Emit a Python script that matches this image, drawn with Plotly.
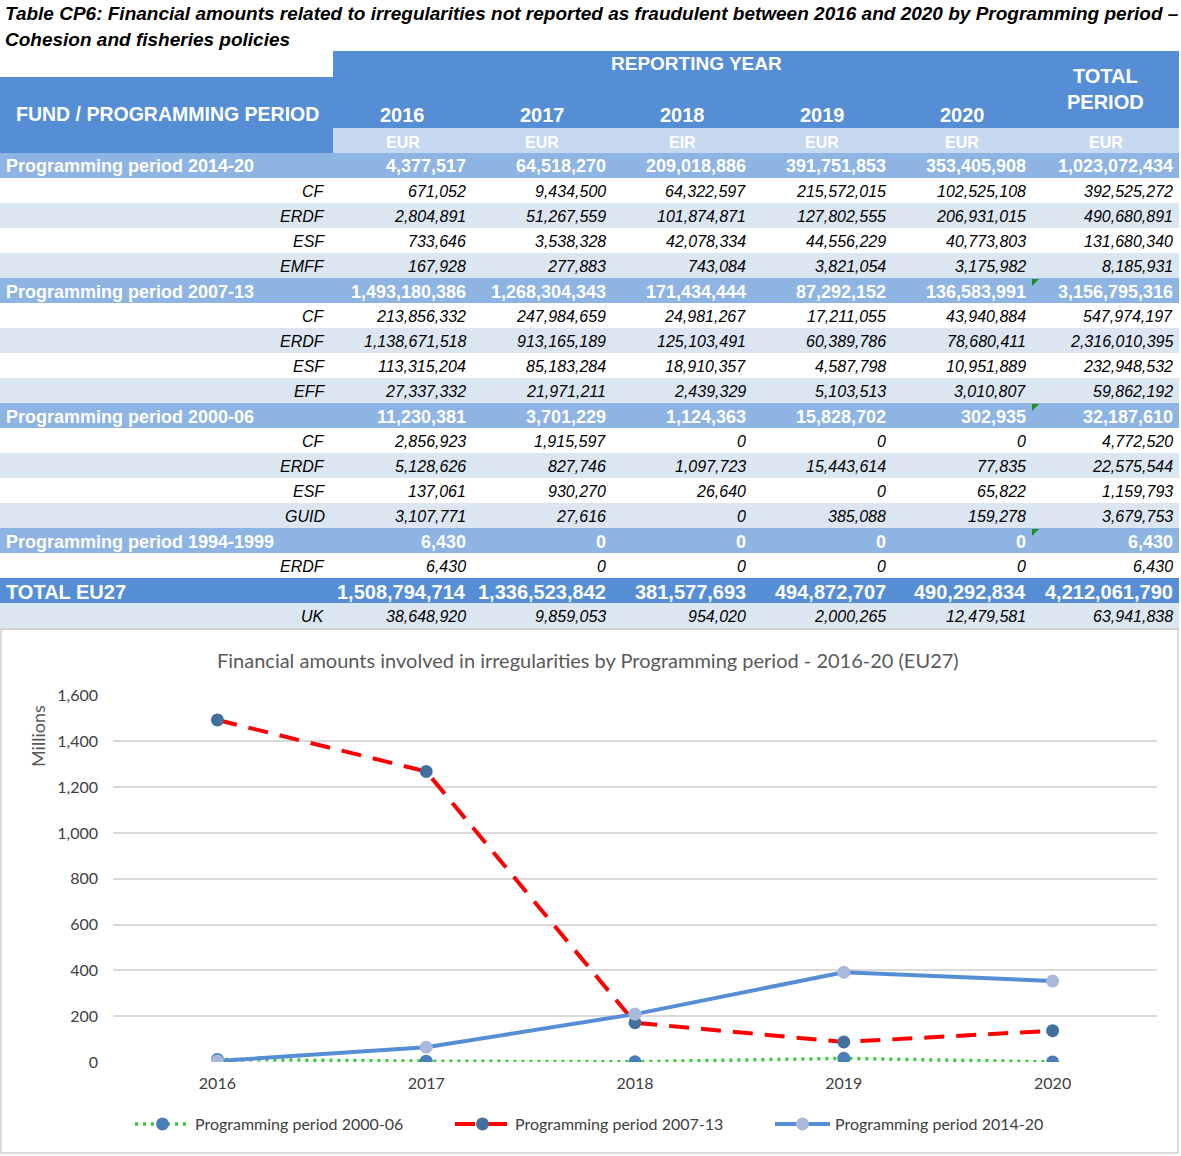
import plotly.graph_objects as go

W, H = 1181, 1156

# ---------------- data ----------------
years = ["2016", "2017", "2018", "2019", "2020"]
unit_labels = ["EUR", "EUR", "EIR", "EUR", "EUR", "EUR"]

pp1420 = [4377517, 64518270, 209018886, 391751853, 353405908, 1023072434]
pp1420_cf = [671052, 9434500, 64322597, 215572015, 102525108, 392525272]
pp1420_erdf = [2804891, 51267559, 101874871, 127802555, 206931015, 490680891]
pp1420_esf = [733646, 3538328, 42078334, 44556229, 40773803, 131680340]
pp1420_emff = [167928, 277883, 743084, 3821054, 3175982, 8185931]

pp0713 = [1493180386, 1268304343, 171434444, 87292152, 136583991, 3156795316]
pp0713_cf = [213856332, 247984659, 24981267, 17211055, 43940884, 547974197]
pp0713_erdf = [1138671518, 913165189, 125103491, 60389786, 78680411, 2316010395]
pp0713_esf = [113315204, 85183284, 18910357, 4587798, 10951889, 232948532]
pp0713_eff = [27337332, 21971211, 2439329, 5103513, 3010807, 59862192]

pp0006 = [11230381, 3701229, 1124363, 15828702, 302935, 32187610]
pp0006_cf = [2856923, 1915597, 0, 0, 0, 4772520]
pp0006_erdf = [5128626, 827746, 1097723, 15443614, 77835, 22575544]
pp0006_esf = [137061, 930270, 26640, 0, 65822, 1159793]
pp0006_guid = [3107771, 27616, 0, 385088, 159278, 3679753]

pp9499 = [6430, 0, 0, 0, 0, 6430]
pp9499_erdf = [6430, 0, 0, 0, 0, 6430]

total_eu27 = [1508794714, 1336523842, 381577693, 494872707, 490292834, 4212061790]
uk = [38648920, 9859053, 954020, 2000265, 12479581, 63941838]

row_labels = ["Programming period 2014-20", "CF", "ERDF", "ESF", "EMFF",
              "Programming period 2007-13", "CF", "ERDF", "ESF", "EFF",
              "Programming period 2000-06", "CF", "ERDF", "ESF", "GUID",
              "Programming period 1994-1999", "ERDF",
              "TOTAL EU27", "UK"]
row_kinds = ["period", "sub", "sub", "sub", "sub",
             "period", "sub", "sub", "sub", "sub",
             "period", "sub", "sub", "sub", "sub",
             "period", "sub",
             "total", "uk"]
row_values = [pp1420, pp1420_cf, pp1420_erdf, pp1420_esf, pp1420_emff,
              pp0713, pp0713_cf, pp0713_erdf, pp0713_esf, pp0713_eff,
              pp0006, pp0006_cf, pp0006_erdf, pp0006_esf, pp0006_guid,
              pp9499, pp9499_erdf,
              total_eu27, uk]
flagged_rows = [5, 10, 15]

series_names = ["Programming period 2000-06", "Programming period 2007-13",
                "Programming period 2014-20"]
series_values = [[v / 1e6 for v in pp0006[:5]],
                 [v / 1e6 for v in pp0713[:5]],
                 [v / 1e6 for v in pp1420[:5]]]

# ---------------- styles ----------------
DARK = "#558ED5"
PERIOD = "#8DB4E2"
UNIT = "#C6D9F1"
LIGHT = "#DCE6F1"
ARIAL = "Liberation Sans, Arial, sans-serif"
CAL = "Lato, Calibri, sans-serif"

col_edges = [333, 472, 612, 752, 892, 1032, 1179]
row_top0 = 153
row_h = 25


def X(px):
    return px / W


def Y(py):
    return 1 - py / H


shapes = []
annots = []


def rect(x0, y0, x1, y1, fill, line=None):
    shapes.append(dict(type="rect", xref="paper", yref="paper",
                       x0=X(x0), x1=X(x1), y0=Y(y1), y1=Y(y0),
                       fillcolor=fill, line=dict(width=0) if line is None else line,
                       layer="below"))


def text(s, x, y, size, color="black", anchor="left", weight="normal",
         style="normal", family=ARIAL, angle=0):
    annots.append(dict(text=s, xref="paper", yref="paper", x=X(x), y=Y(y),
                       xanchor=anchor, yanchor="middle", showarrow=False,
                       textangle=angle,
                       font=dict(size=size, color=color, family=family,
                                 weight=weight, style=style)))


# title
text("Table CP6: Financial amounts related to irregularities not reported as fraudulent between 2016 and 2020 by Programming period \u2013",
     3, 14, 19, weight="bold", style="italic")
text("Cohesion and fisheries policies", 3, 39, 19, weight="bold", style="italic")

# header blocks
rect(col_edges[0], 51, col_edges[-1], 128, DARK)
rect(0, 77, col_edges[0], 153, DARK)
rect(col_edges[0], 128, col_edges[-1], 153, UNIT)

text("FUND / PROGRAMMING PERIOD", 167, 114, 19.5, "white", "center", "bold")
text("REPORTING YEAR", (col_edges[0] + col_edges[5]) / 2 + 14, 64, 19, "white", "center", "bold")
for i, yr in enumerate(years):
    text(yr, (col_edges[i] + col_edges[i + 1]) / 2, 115, 20, "white", "center", "bold")
text("TOTAL<br>PERIOD", (col_edges[5] + col_edges[6]) / 2, 89, 20, "white", "center", "bold")
for i, u in enumerate(unit_labels):
    text(u, (col_edges[i] + col_edges[i + 1]) / 2, 142, 16, "white", "center", "bold")

# body rows
sub_idx = 0
for k, (lab, kind, vals) in enumerate(zip(row_labels, row_kinds, row_values)):
    top = row_top0 + k * row_h
    mid = top + row_h / 2 + 1
    if kind == "period":
        sub_idx = 0
        rect(0, top, col_edges[-1], top + row_h, PERIOD)
        text(lab, 4, mid, 18, "white", "left", "bold")
        for i, v in enumerate(vals):
            text(f"{v:,}", col_edges[i + 1] - 4, mid, 18, "white", "right", "bold")
    elif kind == "total":
        rect(0, top, col_edges[-1], top + row_h, DARK)
        text(lab, 4, mid, 20, "white", "left", "bold")
        for i, v in enumerate(vals):
            text(f"{v:,}", col_edges[i + 1] - 4, mid, 20, "white", "right", "bold")
    else:
        if kind == "uk":
            fill = LIGHT
        else:
            fill = "white" if sub_idx % 2 == 0 else LIGHT
            sub_idx += 1
        rect(0, top, col_edges[-1], top + row_h, fill)
        text(lab, col_edges[0] - 6, mid, 16, "black", "right", style="italic")
        for i, v in enumerate(vals):
            text(f"{v:,}", col_edges[i + 1] - 4, mid, 16, "black", "right", style="italic")

# excel error-indicator triangles
for k in flagged_rows:
    t = row_top0 + k * row_h + 1
    x0 = col_edges[5]
    shapes.append(dict(type="path", xref="paper", yref="paper",
                       path=f"M {X(x0)},{Y(t)} L {X(x0 + 7)},{Y(t)} L {X(x0)},{Y(t + 7)} Z",
                       fillcolor="#1E8C1E", line=dict(width=0)))

table_bottom = row_top0 + len(row_labels) * row_h
rect(0, table_bottom, col_edges[-1], table_bottom + 2, "#D0D0D0")

# chart frame
shapes.append(dict(type="rect", xref="paper", yref="paper",
                   x0=X(1), x1=X(1178), y0=Y(1153), y1=Y(table_bottom + 1),
                   line=dict(color="#D0D0D0", width=1.5), fillcolor="rgba(0,0,0,0)",
                   layer="below"))

text("Financial amounts involved in irregularities by Programming period - 2016-20 (EU27)",
     588, 660, 20, "#595959", "center", family=CAL)
text("Millions", 38, 736, 18, "#595959", "center", family=CAL, angle=-90)

# ---------------- chart ----------------
line_styles = [dict(color="#33CC33", width=3.5, dash="3px,5px"),
               dict(color="#FF0000", width=4, dash="20px,12px"),
               dict(color="#558ED5", width=4)]
marker_colors = ["#4A7EBB", "#41719C", "#A9B9DB"]

fig = go.Figure()
for name, vals, ls, mc in zip(series_names, series_values, line_styles, marker_colors):
    fig.add_trace(go.Scatter(x=years, y=vals, name=name, mode="lines+markers",
                             line=ls, marker=dict(size=13, color=mc, line=dict(width=0))))

fig.update_layout(
    width=W, height=H, margin=dict(l=0, r=0, t=0, b=0, autoexpand=False),
    paper_bgcolor="white", plot_bgcolor="white",
    shapes=shapes, annotations=annots,
    showlegend=True,
    legend=dict(orientation="h", x=X(610), xanchor="center", y=Y(1124), yanchor="middle",
                font=dict(family=CAL, size=16, color="#404040"),
                itemwidth=55,
                entrywidth=250, entrywidthmode="pixels", bgcolor="rgba(0,0,0,0)"),
    xaxis=dict(domain=[X(113), X(1157)], type="category", range=[-0.5, 4.5],
               showgrid=False, showline=False, zeroline=False, ticks="",
               tickfont=dict(family=CAL, size=16, color="#404040"),
               ticklabelstandoff=10),
    yaxis=dict(domain=[Y(1062), Y(695.5)], range=[0, 1600], dtick=200,
               tickformat=",d", showgrid=True, gridcolor="#D9D9D9", gridwidth=1.5,
               zeroline=False, showline=False, ticks="",
               tickfont=dict(family=CAL, size=16, color="#404040"),
               ticklabelstandoff=14),
)

fig.write_html("out.html", config={"displayModeBar": False},
               post_script="document.body.style.margin='0';document.body.style.overflow='hidden';")
